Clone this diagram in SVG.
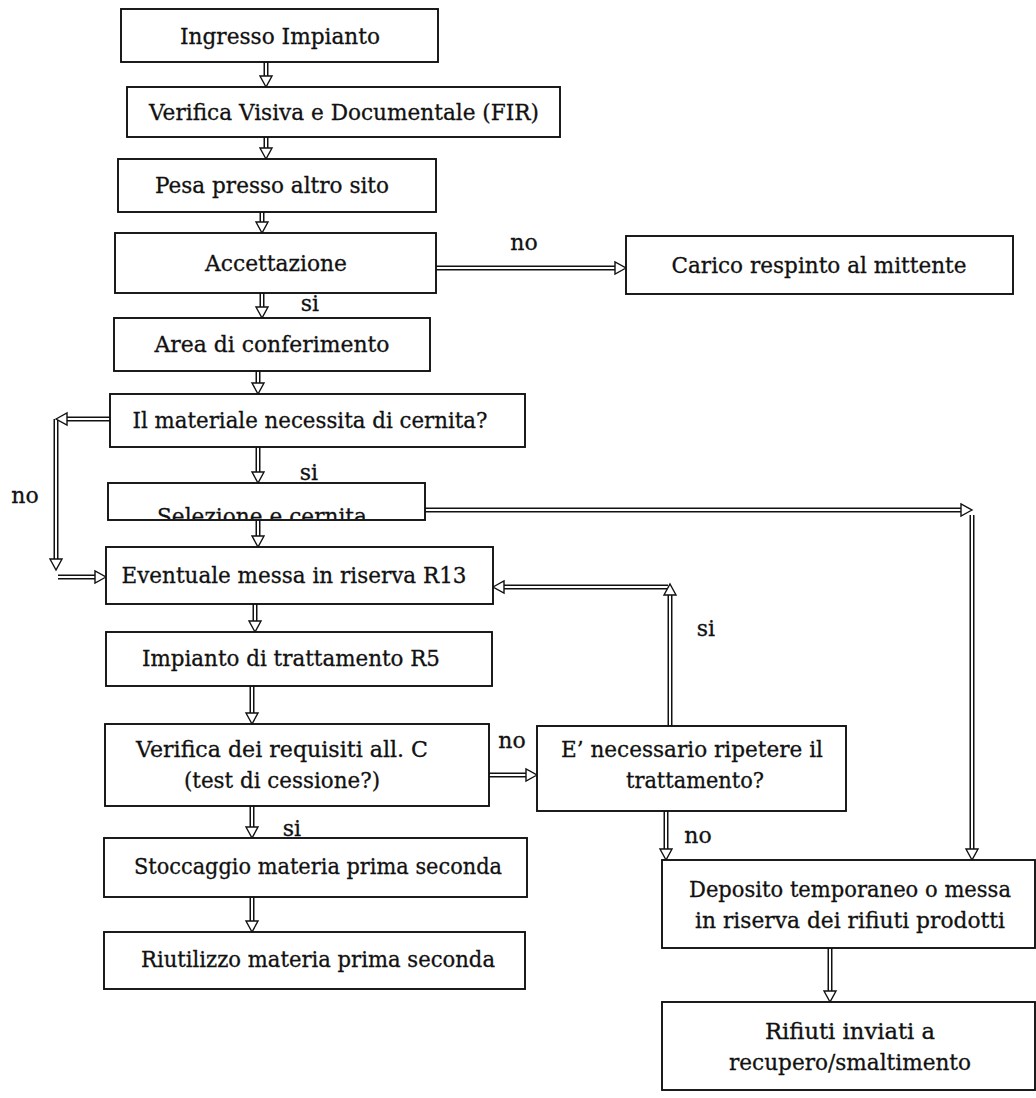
<svg xmlns="http://www.w3.org/2000/svg" xmlns:xlink="http://www.w3.org/1999/xlink" width="1036" height="1098" viewBox="0 0 1036 1098">
<style>
.box{fill:#fff;stroke:#111;stroke-width:1.9}
.t{font-family:"DejaVu Serif","Liberation Serif",serif;font-size:22px;fill:#111;stroke:#111;stroke-width:0.3;text-anchor:middle}
.co{fill:none;stroke:#111;stroke-width:5;stroke-linejoin:miter}
.ci{fill:none;stroke:#fff;stroke-width:2}
</style>
<defs>
<polygon id="tri" points="0,0 -6,-11 6,-11" fill="#fff" stroke="#111" stroke-width="1.4" stroke-linejoin="miter"/>
<clipPath id="clipSel"><rect x="108" y="483" width="317" height="36"/></clipPath>
</defs>
<rect width="1036" height="1098" fill="#fff"/>

<g id="connectors">
  <g class="lines">
    <path class="co" d="M266,62V76 M266,137V148 M262,212V222 M262,293V307 M436,268H615 M258,371V383 M258,447V472 M258,520V536 M255,604V621 M252,686V713 M252,806V827 M252,897V921 M110,419H67 M56,419V559 M58,577H95 M425,510H961 M972,515V849 M489,775H526 M670,726V595 M668,587H504 M666,811V849 M830,948V991"/>
    <path class="ci" d="M266,62V76 M266,137V148 M262,212V222 M262,293V307 M436,268H615 M258,371V383 M258,447V472 M258,520V536 M255,604V621 M252,686V713 M252,806V827 M252,897V921 M110,419H67 M56,419V559 M58,577H95 M425,510H961 M972,515V849 M489,775H526 M670,726V595 M668,587H504 M666,811V849 M830,948V991"/>
  </g>
  <g class="heads">
    <use xlink:href="#tri" href="#tri" transform="translate(266,87)"/>
    <use xlink:href="#tri" href="#tri" transform="translate(266,159)"/>
    <use xlink:href="#tri" href="#tri" transform="translate(262,233)"/>
    <use xlink:href="#tri" href="#tri" transform="translate(262,318)"/>
    <use xlink:href="#tri" href="#tri" transform="translate(626,268) rotate(-90)"/>
    <use xlink:href="#tri" href="#tri" transform="translate(258,394)"/>
    <use xlink:href="#tri" href="#tri" transform="translate(258,483)"/>
    <use xlink:href="#tri" href="#tri" transform="translate(258,547)"/>
    <use xlink:href="#tri" href="#tri" transform="translate(255,632)"/>
    <use xlink:href="#tri" href="#tri" transform="translate(252,724)"/>
    <use xlink:href="#tri" href="#tri" transform="translate(252,838)"/>
    <use xlink:href="#tri" href="#tri" transform="translate(252,932)"/>
    <use xlink:href="#tri" href="#tri" transform="translate(56,419) rotate(90)"/>
    <use xlink:href="#tri" href="#tri" transform="translate(56,570)"/>
    <use xlink:href="#tri" href="#tri" transform="translate(106,577) rotate(-90)"/>
    <use xlink:href="#tri" href="#tri" transform="translate(972,510) rotate(-90)"/>
    <use xlink:href="#tri" href="#tri" transform="translate(972,860)"/>
    <use xlink:href="#tri" href="#tri" transform="translate(537,775) rotate(-90)"/>
    <use xlink:href="#tri" href="#tri" transform="translate(670,584) rotate(180)"/>
    <use xlink:href="#tri" href="#tri" transform="translate(493,587) rotate(90)"/>
    <use xlink:href="#tri" href="#tri" transform="translate(666,860)"/>
    <use xlink:href="#tri" href="#tri" transform="translate(830,1002)"/>
  </g>
  <g class="labels">
    <text class="t" x="310" y="311">si</text>
    <text class="t" x="524" y="250">no</text>
    <text class="t" x="309" y="480">si</text>
    <text class="t" x="25" y="503">no</text>
    <text class="t" x="512" y="748">no</text>
    <text class="t" x="706" y="636">si</text>
    <text class="t" x="292" y="836">si</text>
    <text class="t" x="698" y="843">no</text>
  </g>
</g>

<g id="n1"><rect class="box" x="121" y="9" width="317" height="53"/><text class="t" x="280" y="44" textLength="200" lengthAdjust="spacingAndGlyphs">Ingresso Impianto</text></g>
<g id="n2"><rect class="box" x="127" y="87" width="433" height="50"/><text class="t" x="344" y="120" textLength="390" lengthAdjust="spacingAndGlyphs">Verifica Visiva e Documentale (FIR)</text></g>
<g id="n3"><rect class="box" x="118" y="159" width="318" height="53"/><text class="t" x="272" y="193" textLength="234" lengthAdjust="spacingAndGlyphs">Pesa presso altro sito</text></g>
<g id="n4"><rect class="box" x="115" y="233" width="321" height="60"/><text class="t" x="276" y="271" textLength="142" lengthAdjust="spacingAndGlyphs">Accettazione</text></g>
<g id="n5"><rect class="box" x="626" y="236" width="387" height="58"/><text class="t" x="819" y="273" textLength="295" lengthAdjust="spacingAndGlyphs">Carico respinto al mittente</text></g>
<g id="n6"><rect class="box" x="114" y="318" width="316" height="53"/><text class="t" x="272" y="352" textLength="235" lengthAdjust="spacingAndGlyphs">Area di conferimento</text></g>
<g id="n7"><rect class="box" x="110" y="394" width="415" height="53"/><text class="t" x="310" y="428" textLength="355" lengthAdjust="spacingAndGlyphs">Il materiale necessita di cernita?</text></g>
<g id="n8"><rect class="box" x="108" y="483" width="317" height="37"/><g clip-path="url(#clipSel)"><text class="t" x="262" y="524" textLength="210" lengthAdjust="spacingAndGlyphs">Selezione e cernita</text></g></g>
<g id="n9"><rect class="box" x="106" y="547" width="387" height="57"/><text class="t" x="294" y="583" textLength="345" lengthAdjust="spacingAndGlyphs">Eventuale messa in riserva R13</text></g>
<g id="n10"><rect class="box" x="106" y="632" width="386" height="54"/><text class="t" x="291" y="666" textLength="298" lengthAdjust="spacingAndGlyphs">Impianto di trattamento R5</text></g>
<g id="n11"><rect class="box" x="105" y="724" width="384" height="82"/><text class="t" x="282" y="757" textLength="292" lengthAdjust="spacingAndGlyphs">Verifica dei requisiti all. C</text><text class="t" x="282" y="788" textLength="196" lengthAdjust="spacingAndGlyphs">(test di cessione?)</text></g>
<g id="n12"><rect class="box" x="537" y="726" width="309" height="85"/><text class="t" x="692" y="757" textLength="262" lengthAdjust="spacingAndGlyphs">E’ necessario ripetere il</text><text class="t" x="695" y="788" textLength="138" lengthAdjust="spacingAndGlyphs">trattamento?</text></g>
<g id="n13"><rect class="box" x="104" y="838" width="423" height="59"/><text class="t" x="318" y="874" textLength="368" lengthAdjust="spacingAndGlyphs">Stoccaggio materia prima seconda</text></g>
<g id="n14"><rect class="box" x="104" y="932" width="421" height="57"/><text class="t" x="318" y="967" textLength="354" lengthAdjust="spacingAndGlyphs">Riutilizzo materia prima seconda</text></g>
<g id="n15"><rect class="box" x="662" y="860" width="373" height="88"/><text class="t" x="850" y="897" textLength="322" lengthAdjust="spacingAndGlyphs">Deposito temporaneo o messa</text><text class="t" x="850" y="928" textLength="310" lengthAdjust="spacingAndGlyphs">in riserva dei rifiuti prodotti</text></g>
<g id="n16"><rect class="box" x="662" y="1002" width="373" height="88"/><text class="t" x="850" y="1039" textLength="170" lengthAdjust="spacingAndGlyphs">Rifiuti inviati a</text><text class="t" x="850" y="1070" textLength="242" lengthAdjust="spacingAndGlyphs">recupero/smaltimento</text></g>
</svg>
